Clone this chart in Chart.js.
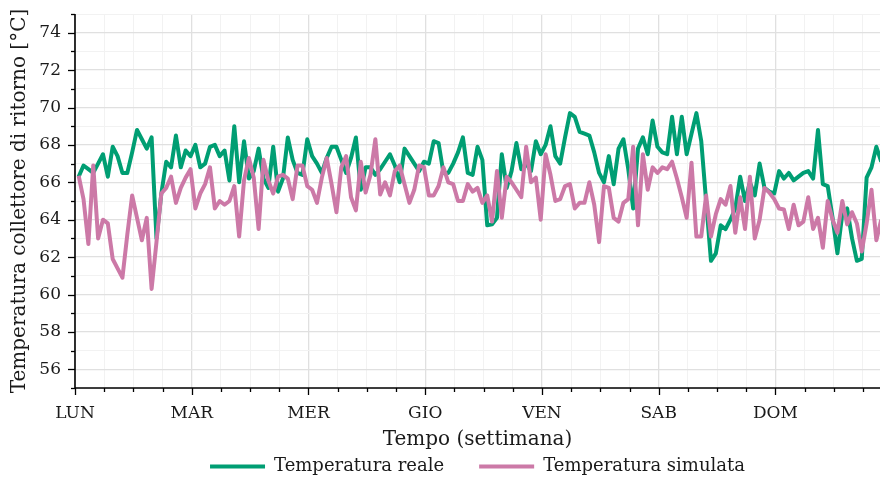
<!DOCTYPE html>
<html>
<head>
<meta charset="utf-8">
<script src="https://cdn.jsdelivr.net/npm/chart.js@4.4.1/dist/chart.umd.min.js"></script>
<style>
html, body { margin: 0; padding: 0; background: #fff; }
#wrap { width: 880px; height: 477px; }
</style>
</head>
<body>
<div id="wrap"><canvas id="chart" width="880" height="477"></canvas></div>
<script>
// days of the week on the x axis, one every 24 h
const dayLabels = ['LUN', 'MAR', 'MER', 'GIO', 'VEN', 'SAB', 'DOM'];
// hourly samples, first one logged at 0.75 h
const firstHour = 0.75;

const realTemp = [
    66.3, 66.9, 66.7, 66.5, 67.0, 67.5, 66.3, 67.9, 67.4, 66.5,
    66.5, 67.6, 68.8, 68.3, 67.8, 68.4, 63.0, 65.4, 67.1, 66.8,
    68.5, 66.8, 67.7, 67.4, 68.0, 66.8, 67.0, 67.9, 68.0, 67.4,
    67.7, 66.1, 69.0, 66.0, 68.2, 66.2, 66.6, 67.8, 66.2, 65.7,
    67.9, 65.5, 66.2, 68.4, 67.2, 66.5, 66.4, 68.3, 67.4, 67.0,
    66.5, 67.3, 67.9, 67.9, 67.2, 66.5, 67.3, 68.4, 65.6, 66.8,
    66.8, 66.4, 66.7, 67.1, 67.5, 66.9, 66.0, 67.8, 67.4, 67.0,
    66.6, 67.1, 67.0, 68.2, 68.1, 66.5, 66.5, 67.0, 67.6, 68.4,
    66.5, 66.4, 67.9, 67.2, 63.7, 63.75, 64.1, 67.5, 65.7, 66.6,
    68.1, 66.7, 67.0, 66.6, 68.2, 67.5, 68.0, 69.0, 67.4, 67.0,
    68.4, 69.7, 69.5, 68.7, 68.6, 68.5, 67.6, 66.5, 66.0, 67.4,
    65.9, 67.8, 68.3, 66.7, 64.6, 67.8, 68.4, 67.5, 69.3, 67.9,
    67.6, 67.5, 69.5, 67.5, 69.5, 67.5, 68.6, 69.7, 68.2, 65.0,
    61.8, 62.2, 63.7, 63.5, 64.0, 64.6, 66.3, 65.0, 66.0, 65.3,
    67.0, 65.7, 65.5, 65.4, 66.6, 66.2, 66.5, 66.1, 66.3, 66.5,
    66.6, 66.2, 68.8, 65.9, 65.8, 64.1, 62.2, 64.3, 64.6, 63.0,
    61.8, 61.9, 66.25, 66.8, 67.9, 67.1
];

const simTemp = [
    66.35, 65.1, 62.7, 66.9, 63.0, 64.0, 63.8, 61.9, 61.4, 60.9,
    63.2, 65.3, 64.1, 62.9, 64.1, 60.3, 62.8, 65.4, 65.7, 66.3,
    64.9, 65.7, 66.25, 66.7, 64.6, 65.4, 65.9, 66.8, 64.6, 65.0,
    64.8, 65.0, 65.8, 63.1, 66.1, 67.3, 66.25, 63.5, 67.2, 66.1,
    65.4, 66.3, 66.4, 66.2, 65.1, 66.9, 66.9, 65.8, 65.6, 64.9,
    66.25, 67.3, 65.9, 64.4, 66.8, 67.4, 65.2, 64.5, 67.1, 65.45,
    66.4, 68.3, 65.35, 66.0, 65.3, 66.6, 66.9, 65.9, 64.9, 65.6,
    66.9, 66.8, 65.3, 65.3, 65.8, 66.8, 66.0, 65.9, 65.0, 65.0,
    65.9, 65.5, 65.7, 64.9, 65.3, 63.9, 66.6, 64.1, 66.3, 66.0,
    65.6, 65.2, 67.9, 66.0, 66.25, 64.0, 67.5, 66.4, 65.0, 65.1,
    65.8, 65.9, 64.6, 64.9, 64.9, 66.0, 64.8, 62.8, 65.8, 65.7,
    64.1, 63.9, 64.9, 65.1, 67.9, 63.7, 67.5, 65.6, 66.8, 66.5,
    66.8, 66.7, 67.1, 66.2, 65.2, 64.1, 67.05, 63.1, 63.1, 65.3,
    63.1, 64.3, 65.1, 64.8, 65.8, 63.3, 65.2, 63.5, 66.3, 63.0,
    64.0, 65.7, 65.45, 65.1, 64.6, 64.55, 63.5, 64.8, 63.7, 63.9,
    65.2, 63.5, 64.1, 62.5, 65.0, 64.0, 63.3, 65.0, 63.75, 64.4,
    63.8, 62.3, 63.8, 65.6, 62.9, 64.0
];

const yMin = 55, yMax = 75;
const xMax = 165.5;

const GREEN = '#009E73';
const PINK = '#CC79A7';
const TEXT = '#1a1a1a';
const GRID_MAJOR = '#e0e0e0';
const GRID_MINOR = '#f2f2f2';
const FONT = 'DejaVu Serif';

const hours = realTemp.map((_, i) => firstHour + i);
const toPoints = arr => arr.map((v, i) => ({ x: hours[i], y: v }));

// spines and tick marks, matplotlib style (long major, short minor)
const axesFrame = {
    id: 'axesFrame',
    afterDatasetsDraw(chart) {
        const { ctx, chartArea: a, scales: { x, y } } = chart;
        ctx.save();
        ctx.strokeStyle = '#000';
        ctx.lineWidth = 1.3;
        for (let v = yMin; v <= yMax; v++) {
            const py = Math.round(y.getPixelForValue(v)) + 0.5;
            const len = v % 2 === 0 ? 7 : 4;
            ctx.beginPath();
            ctx.moveTo(a.left - len, py);
            ctx.lineTo(a.left, py);
            ctx.stroke();
        }
        for (let h = 0; h <= xMax; h += 6) {
            const px = Math.round(x.getPixelForValue(h)) + 0.5;
            const len = h % 24 === 0 ? 7 : 4;
            ctx.beginPath();
            ctx.moveTo(px, a.bottom);
            ctx.lineTo(px, a.bottom + len);
            ctx.stroke();
        }
        ctx.lineWidth = 1.6;
        ctx.beginPath();
        ctx.moveTo(a.left, a.top);
        ctx.lineTo(a.left, a.bottom);
        ctx.lineTo(a.right, a.bottom);
        ctx.stroke();
        ctx.restore();
    }
};

Chart.defaults.font.family = FONT;
Chart.defaults.color = TEXT;

new Chart(document.getElementById('chart'), {
    type: 'line',
    data: {
        datasets: [
            {
                label: 'Temperatura reale',
                data: toPoints(realTemp),
                borderColor: GREEN,
                backgroundColor: GREEN,
                borderWidth: 4,
                order: 2
            },
            {
                label: 'Temperatura simulata',
                data: toPoints(simTemp),
                borderColor: PINK,
                backgroundColor: PINK,
                borderWidth: 4,
                order: 1
            }
        ]
    },
    options: {
        responsive: false,
        animation: false,
        devicePixelRatio: 1,
        layout: { padding: { top: 14, right: 0, bottom: 0, left: 0 } },
        elements: {
            point: { radius: 0 },
            line: { tension: 0, borderJoinStyle: 'round', borderCapStyle: 'butt' }
        },
        scales: {
            x: {
                type: 'linear',
                min: 0,
                max: xMax,
                afterBuildTicks: s => {
                    s.ticks = [];
                    for (let h = 0; h <= xMax; h += 6) s.ticks.push({ value: h });
                },
                afterFit: s => { s.height = 34.5; },
                ticks: {
                    autoSkip: false,
                    maxRotation: 0,
                    padding: 15,
                    color: TEXT,
                    font: { size: 17 },
                    callback: v => (v % 24 === 0 ? dayLabels[v / 24] : '')
                },
                grid: {
                    drawTicks: false,
                    color: c => (c.tick && c.tick.value % 24 === 0 ? GRID_MAJOR : GRID_MINOR),
                    lineWidth: c => (c.tick && c.tick.value % 24 === 0 ? 1.3 : 1)
                },
                border: { display: false },
                title: {
                    display: true,
                    text: 'Tempo (settimana)',
                    color: TEXT,
                    font: { size: 20 },
                    padding: { top: 0, bottom: -29 }
                }
            },
            y: {
                min: yMin,
                max: yMax,
                afterBuildTicks: s => {
                    s.ticks = [];
                    for (let v = yMin; v <= yMax; v++) s.ticks.push({ value: v });
                },
                afterFit: s => {
                    s.width = 75;
                    s.paddingTop = 0;
                    s.paddingBottom = 0;
                },
                ticks: {
                    autoSkip: false,
                    padding: 14,
                    color: TEXT,
                    font: { size: 17 },
                    callback: v => (v % 2 === 0 ? String(v) : '')
                },
                grid: {
                    drawTicks: false,
                    color: c => (c.tick && c.tick.value % 2 === 0 ? GRID_MAJOR : GRID_MINOR),
                    lineWidth: c => (c.tick && c.tick.value % 2 === 0 ? 1.3 : 1)
                },
                border: { display: false },
                title: {
                    display: true,
                    text: 'Temperatura collettore di ritorno [°C]',
                    color: TEXT,
                    font: { size: 20 },
                    padding: { top: 8, bottom: 0 }
                }
            }
        },
        plugins: {
            tooltip: { enabled: false },
            legend: {
                position: 'bottom',
                fullSize: false,
                maxHeight: 54.5,
                labels: {
                    boxWidth: 55,
                    boxHeight: 4,
                    padding: 35,
                    color: TEXT,
                    font: { size: 18 },
                    sort: (a, b) => a.datasetIndex - b.datasetIndex,
                    generateLabels: chart =>
                        Chart.defaults.plugins.legend.labels.generateLabels(chart).map(l =>
                            Object.assign(l, { lineWidth: 0, fillStyle: l.strokeStyle }))
                }
            }
        }
    },
    plugins: [axesFrame]
});
</script>
</body>
</html>
